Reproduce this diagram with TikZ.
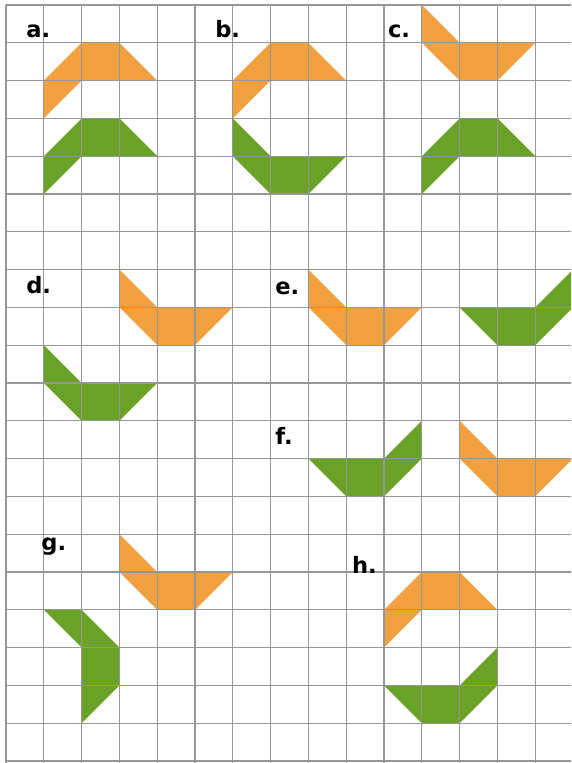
\documentclass[tikz,border=0pt]{standalone}
\usepackage{fontspec}
\newfontfamily\labelfont{DejaVu Sans}
\definecolor{tileOrange}{RGB}{243,161,64}
\definecolor{tileGreen}{RGB}{105,162,38}
\definecolor{gridGray}{RGB}{150,150,150}
\tikzset{
  orangeTile/.style={fill=tileOrange},
  greenTile/.style={fill=tileGreen},
  gridLine/.style={draw=gridGray,line width=0.8pt},
  figLabel/.style={anchor=base west,inner sep=0pt,font=\labelfont\bfseries\fontsize{17}{20}\selectfont}
}

\begin{document}
\begin{tikzpicture}[y=-1cm]
\useasboundingbox (-0.159,-0.132) rectangle (14.947,20.053);
\clip (-0.159,-0.132) rectangle (14.947,20.053);
% a.
\fill[orangeTile] (1,2) -- (2,1) -- (3,1) -- (4,2) -- (2,2) -- (1,3) -- cycle;
\fill[greenTile] (1,4) -- (2,3) -- (3,3) -- (4,4) -- (2,4) -- (1,5) -- cycle;
% b.
\fill[orangeTile] (6,2) -- (7,1) -- (8,1) -- (9,2) -- (7,2) -- (6,3) -- cycle;
\fill[greenTile] (6,3) -- (7,4) -- (9,4) -- (8,5) -- (7,5) -- (6,4) -- cycle;
% c.
\fill[orangeTile] (11,0) -- (12,1) -- (14,1) -- (13,2) -- (12,2) -- (11,1) -- cycle;
\fill[greenTile] (11,4) -- (12,3) -- (13,3) -- (14,4) -- (12,4) -- (11,5) -- cycle;
% d.
\fill[orangeTile] (3,7) -- (4,8) -- (6,8) -- (5,9) -- (4,9) -- (3,8) -- cycle;
\fill[greenTile] (1,9) -- (2,10) -- (4,10) -- (3,11) -- (2,11) -- (1,10) -- cycle;
% e.
\fill[orangeTile] (8,7) -- (9,8) -- (11,8) -- (10,9) -- (9,9) -- (8,8) -- cycle;
\fill[greenTile] (12,8) -- (14,8) -- (15,7) -- (15,8) -- (14,9) -- (13,9) -- cycle;
% f.
\fill[greenTile] (8,12) -- (10,12) -- (11,11) -- (11,12) -- (10,13) -- (9,13) -- cycle;
\fill[orangeTile] (12,11) -- (13,12) -- (15,12) -- (14,13) -- (13,13) -- (12,12) -- cycle;
% g.
\fill[orangeTile] (3,14) -- (4,15) -- (6,15) -- (5,16) -- (4,16) -- (3,15) -- cycle;
\fill[greenTile] (1,16) -- (2,16) -- (3,17) -- (3,18) -- (2,19) -- (2,17) -- cycle;
% h.
\fill[orangeTile] (10,16) -- (11,15) -- (12,15) -- (13,16) -- (11,16) -- (10,17) -- cycle;
\fill[greenTile] (10,18) -- (12,18) -- (13,17) -- (13,18) -- (12,19) -- (11,19) -- cycle;
% grid on top
\foreach \c in {0,...,14}
  \draw[gridLine] (\c,0) -- (\c,20.053);
\foreach \r in {0,...,20}
  \draw[gridLine] (0,\r) -- (14.947,\r);
% labels
\node[figLabel] (labA) at (0.53,0.85) {a.};
\node[figLabel] (labB) at (5.53,0.85) {b.};
\node[figLabel] (labC) at (10.1,0.85) {c.};
\node[figLabel] (labD) at (0.53,7.62) {d.};
\node[figLabel] (labE) at (7.12,7.65) {e.};
\node[figLabel] (labF) at (7.12,11.64) {f.};
\node[figLabel] (labG) at (0.93,14.44) {g.};
\node[figLabel] (labH) at (9.15,15.03) {h.};
\end{tikzpicture}
\end{document}
